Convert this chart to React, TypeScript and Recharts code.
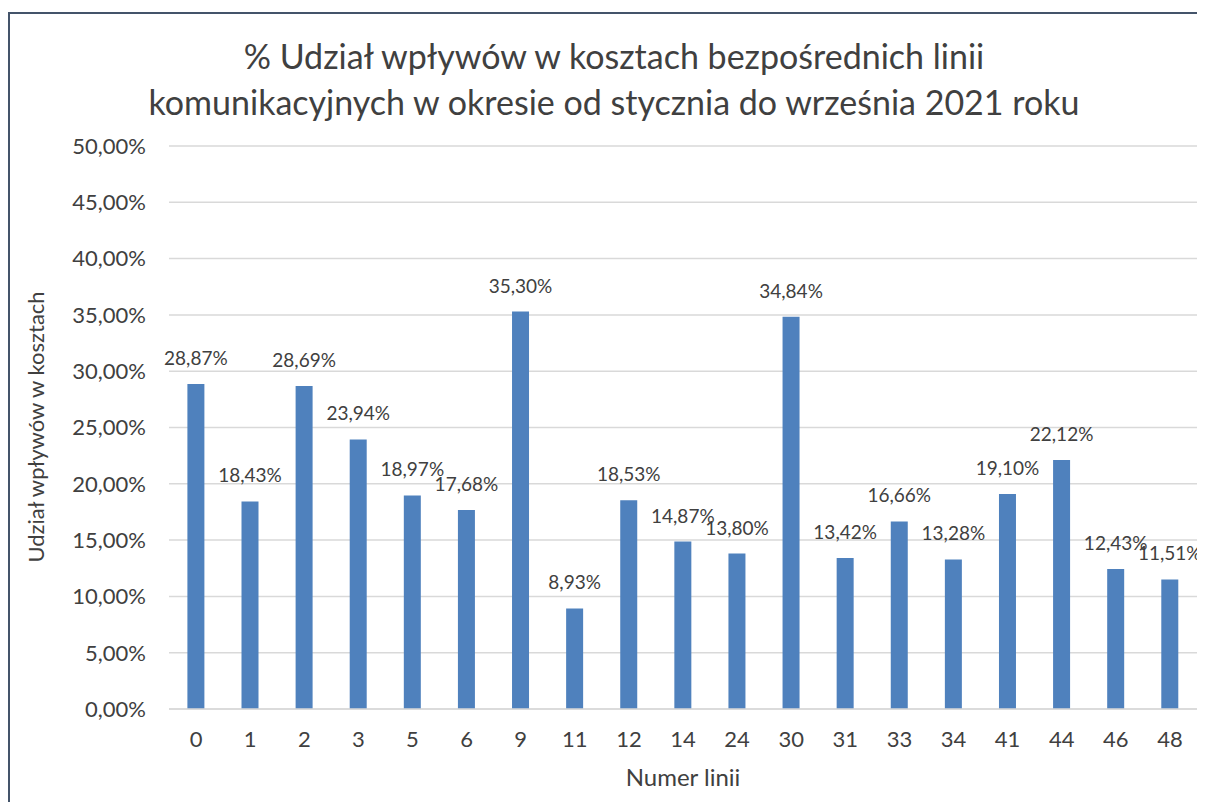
import { BarChart, Bar, XAxis, YAxis, CartesianGrid, LabelList } from "recharts";

const linie = ["0", "1", "2", "3", "5", "6", "9", "11", "12", "14", "24", "30", "31", "33", "34", "41", "44", "46", "48"];
const udzial = [28.87, 18.43, 28.69, 23.94, 18.97, 17.68, 35.3, 8.93, 18.53, 14.87, 13.8, 34.84, 13.42, 16.66, 13.28, 19.1, 22.12, 12.43, 11.51];
const yTicks = [0, 5, 10, 15, 20, 25, 30, 35, 40, 45, 50];

const data = linie.map((linia, i) => ({ linia, udzial: udzial[i] }));

const FONT = "Lato, 'Open Sans', sans-serif";
const TEXT = "#404040";

const pct = (v: number) => v.toFixed(2).replace(".", ",") + "%";

export default function App() {
  return (
    <div
      style={{
        position: "relative",
        width: 1197,
        height: 794,
        overflow: "hidden",
        fontFamily: FONT,
      }}
    >
      <style>{"html,body{overflow:hidden}"}</style>
      <div
        style={{
          position: "absolute",
          left: 0,
          top: 4,
          width: 1300,
          height: 900,
          borderLeft: "2px solid #44546a",
          borderTop: "2px solid #44546a",
          pointerEvents: "none",
        }}
      />
      <BarChart
        width={1197}
        height={794}
        data={data}
        margin={{ top: 138, right: 8, left: 0, bottom: 0 }}
        barCategoryGap="34%"
        style={{ overflow: "visible" }}
      >
        <CartesianGrid vertical={false} stroke="#d9d9d9" strokeWidth={1.5} />
        <XAxis
          dataKey="linia"
          height={93}
          tickLine={false}
          tickSize={0}
          tickMargin={22}
          axisLine={{ stroke: "#d9d9d9", strokeWidth: 1.5 }}
          tick={{ fill: TEXT, fontSize: 22, fontFamily: FONT }}
          interval={0}
        />
        <YAxis
          width={161}
          domain={[0, 50]}
          ticks={yTicks}
          tickFormatter={pct}
          axisLine={false}
          tickLine={false}
          tickSize={0}
          tickMargin={23}
          tick={{ fill: TEXT, fontSize: 22, fontFamily: FONT }}
        />
        <Bar dataKey="udzial" fill="#4f81bd" isAnimationActive={false}>
          <LabelList
            dataKey="udzial"
            position="top"
            offset={19}
            formatter={(v: any) => pct(Number(v))}
            style={{ fill: TEXT, fontSize: 19, fontFamily: FONT }}
          />
        </Bar>
      </BarChart>
      <svg
        width={1197}
        height={794}
        style={{ position: "absolute", left: 0, top: 0, pointerEvents: "none" }}
      >
        <g fill={TEXT} fontFamily={FONT} textAnchor="middle">
          <text x={606} y={61} fontSize={34}>
            % Udział wpływów w kosztach bezpośrednich linii
          </text>
          <text x={606} y={107} fontSize={34}>
            komunikacyjnych w okresie od stycznia do września 2021 roku
          </text>
          <text x={675} y={768} fontSize={24} dominantBaseline="central">
            Numer linii
          </text>
          <text
            x={27}
            y={419}
            fontSize={22}
            dominantBaseline="central"
            transform="rotate(-90 27 419)"
          >
            Udział wpływów w kosztach
          </text>
        </g>
      </svg>
    </div>
  );
}
